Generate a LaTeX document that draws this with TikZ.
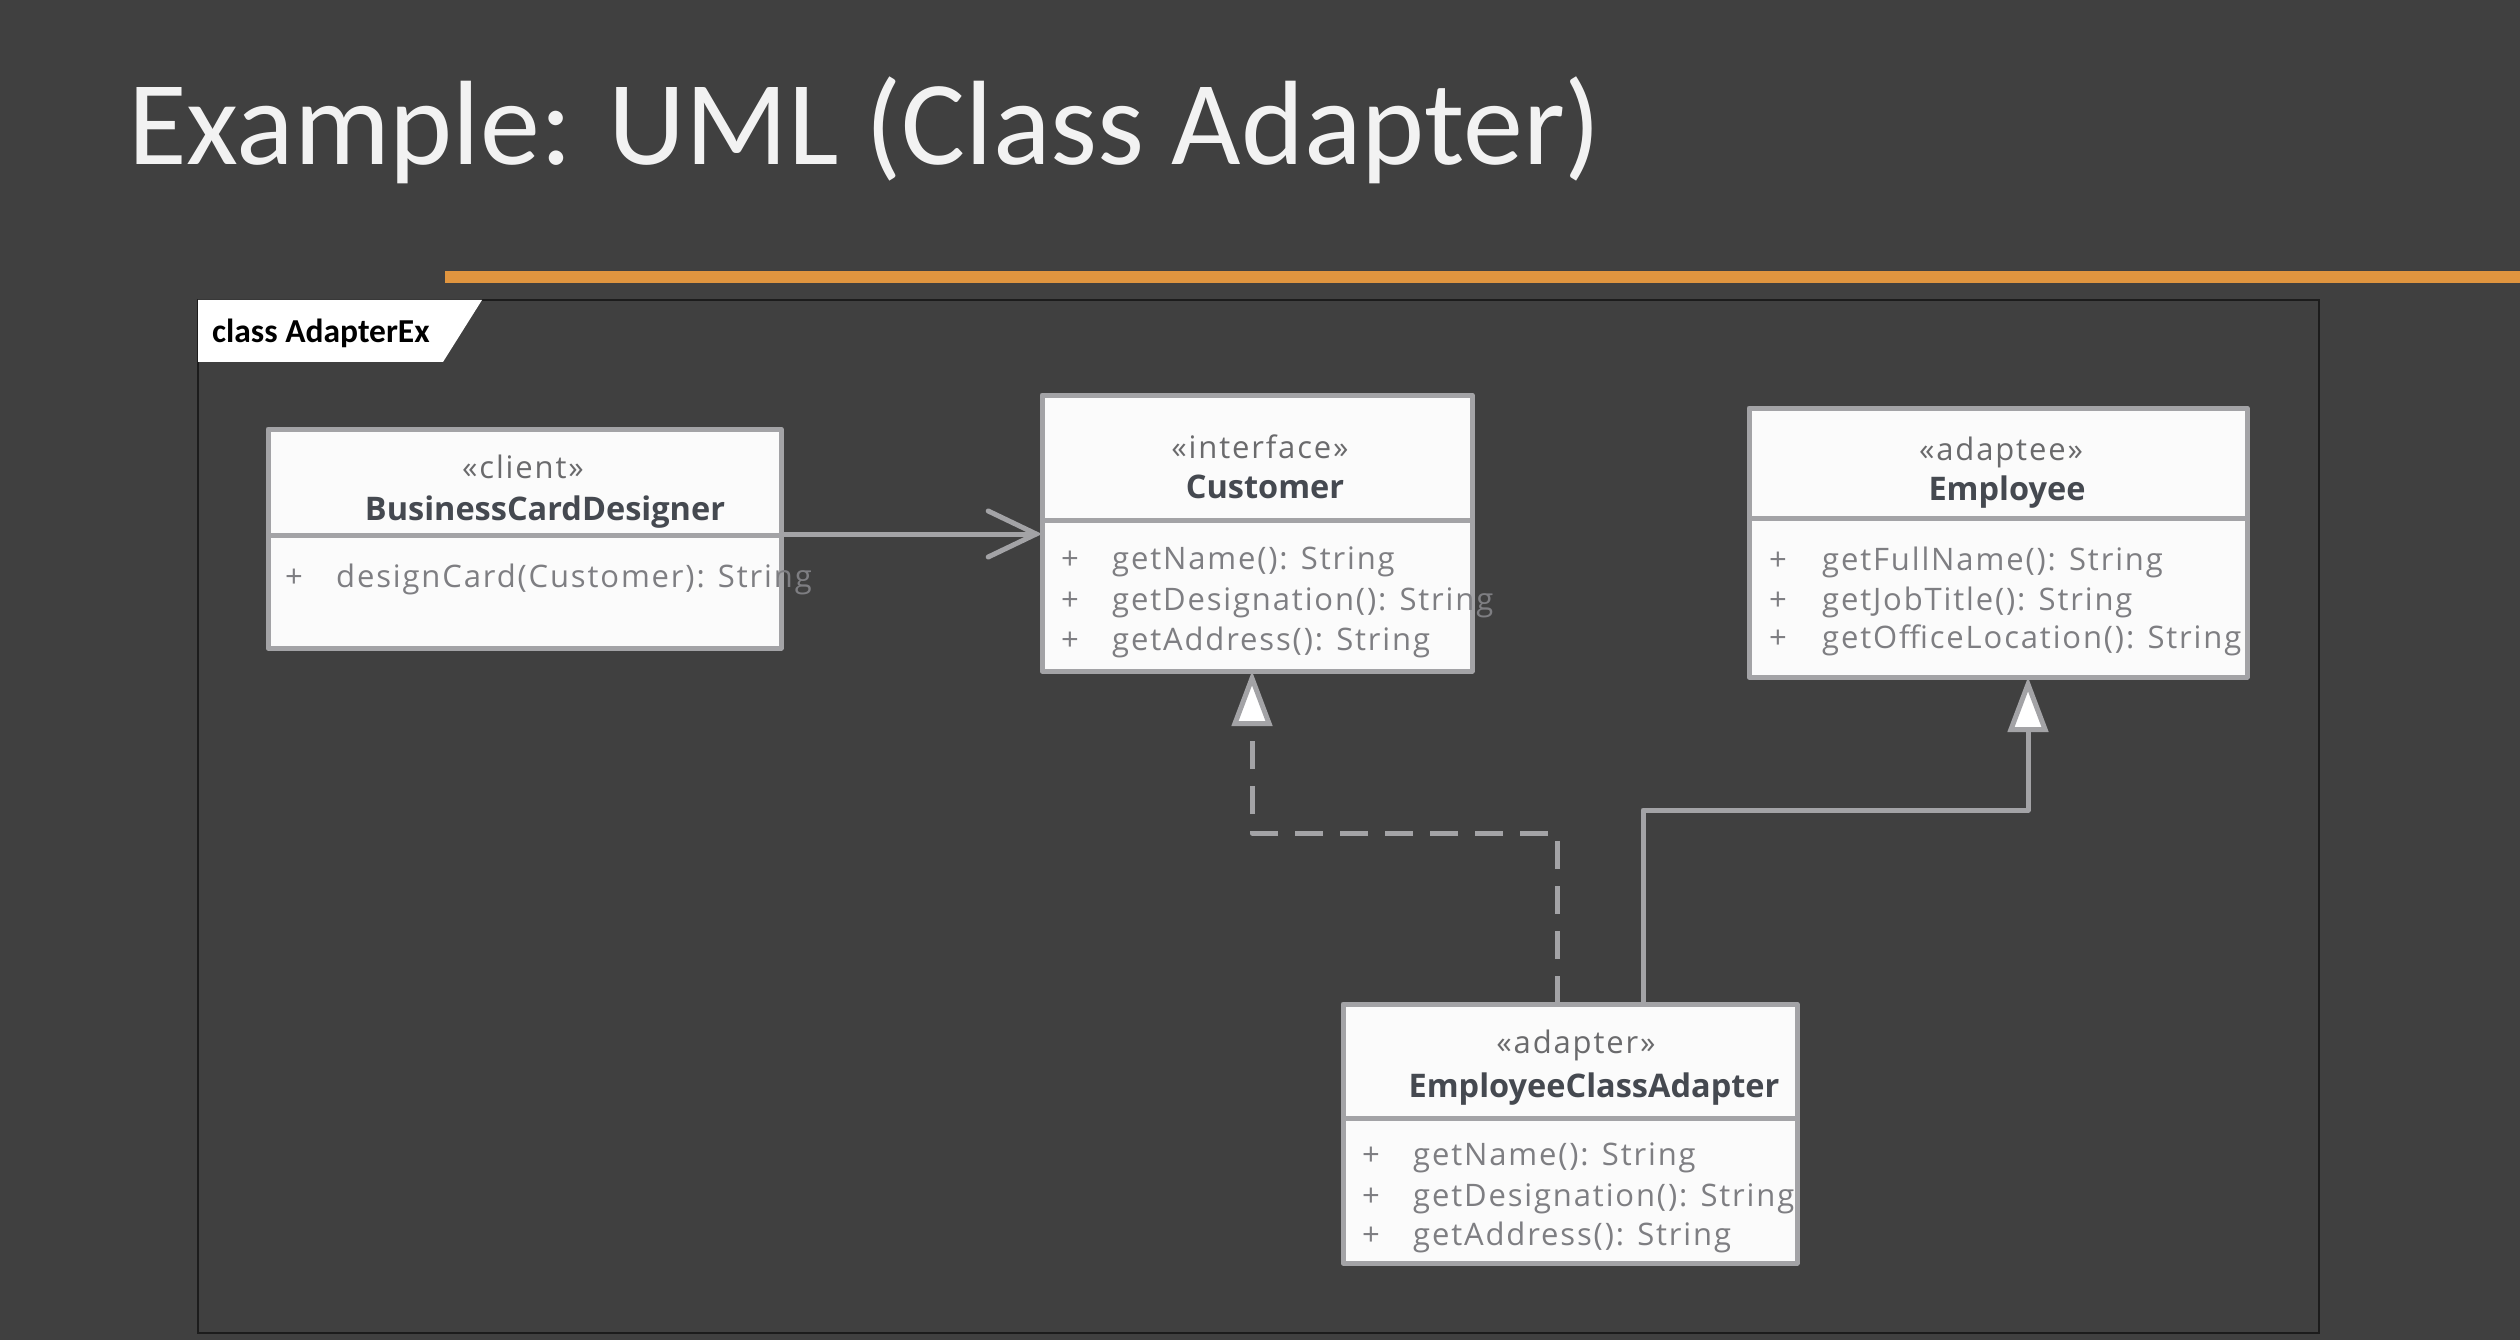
\documentclass[tikz,border=0pt]{standalone}
\usepackage{fontspec}
\setmainfont{Open Sans}
\newfontfamily\titlefont{Carlito}
\newfontfamily\boxfont{Open Sans}
\newfontfamily\spacedfont[LetterSpace=6]{Open Sans}
\usetikzlibrary{arrows.meta}
\definecolor{bgc}{HTML}{404040}
\definecolor{boxline}{HTML}{A3A3A6}
\definecolor{boxfill}{HTML}{FBFBFB}
\definecolor{nametext}{HTML}{454950}
\definecolor{stereotext}{HTML}{6A6A6C}
\definecolor{methtext}{HTML}{7E7E82}
\definecolor{barorange}{HTML}{E0953F}
\definecolor{framec}{HTML}{1C1C1C}
\definecolor{titlec}{HTML}{F2F2F2}
\tikzset{
  umlbox/.style={draw=boxline, fill=boxfill, line width=5pt, rectangle, inner sep=0pt, outer sep=0pt, line join=round},
  divider/.style={draw=boxline, line width=5pt},
  stereo/.style={anchor=base, inner sep=0pt, text=stereotext, font=\spacedfont\fontsize{31}{36}\selectfont},
  cname/.style={anchor=base, inner sep=0pt, text=nametext, font=\boxfont\bfseries\fontsize{32.5}{38}\selectfont},
  meth/.style={anchor=base west, inner sep=0pt, text=methtext, font=\spacedfont\fontsize{31}{36}\selectfont},
  plus/.style={anchor=base west, inner sep=0pt, text=methtext, font=\boxfont\fontsize{31}{36}\selectfont},
  conn/.style={draw=boxline, line width=5pt, line cap=round, line join=round},
  assoc/.style={conn, -{Straight Barb[length=48pt, width=46pt, line cap=round]}},
  realize/.style={conn, line cap=butt, dash pattern=on 28pt off 17pt, -{Triangle[length=55pt, width=40pt, fill=white, line join=miter]}},
  generalize/.style={conn, -{Triangle[length=55pt, width=40pt, fill=white, line join=miter]}}
}
\begin{document}
\begin{tikzpicture}[x=1pt, y=-1pt]
\fill[bgc] (0,0) rectangle (2520,1340);
\useasboundingbox (0,0) rectangle (2520,1340);

% title and bar
\node[anchor=base west, inner sep=0pt, text=titlec, font=\titlefont\fontsize{120}{134}\selectfont] (title) at (128,165) {Example: UML (Class Adapter)};
\fill[barorange] (445,271) rectangle (2520,283);

% frame and tab
\draw[framec, line width=2.5pt] (198,300) rectangle (2319,1333);
\fill[white] (198,300) -- (482,300) -- (443,362) -- (198,362) -- cycle;
\node[anchor=base west, inner sep=0pt, text=black, font=\titlefont\bfseries\fontsize{33.5}{38}\selectfont] (tab) at (212,343) {class AdapterEx};

% boxes
\node[umlbox, minimum width=513pt, minimum height=219pt] (bcd) at (524.5,538.5) {};
\node[umlbox, minimum width=430pt, minimum height=276pt] (cust) at (1257,533) {};
\node[umlbox, minimum width=498pt, minimum height=269pt] (emp) at (1998,542.5) {};
\node[umlbox, minimum width=454pt, minimum height=259pt] (adp) at (1570,1133.5) {};

\draw[divider] (bcd.west |- 0,535) -- (bcd.east |- 0,535);
\draw[divider] (cust.west |- 0,520) -- (cust.east |- 0,520);
\draw[divider] (emp.west |- 0,518) -- (emp.east |- 0,518);
\draw[divider] (adp.west |- 0,1118) -- (adp.east |- 0,1118);

% BusinessCardDesigner
\node[stereo] (bcdst) at (523,478) {«client»};
\node[cname] (bcdnm) at (545,520) {BusinessCardDesigner};
\node[plus] (bcdp1) at (285,587) {+};
\node[meth] (bcdm1) at (336,587) {designCard(Customer): String};

% Customer
\node[stereo] (custst) at (1260,458) {«interface»};
\node[cname] (custnm) at (1265,498) {Customer};
\node[plus] (custp1) at (1061,569) {+};
\node[plus] (custp2) at (1061,610) {+};
\node[plus] (custp3) at (1061,650) {+};
\node[meth] (custm1) at (1112,569) {getName(): String};
\node[meth] (custm2) at (1112,610) {getDesignation(): String};
\node[meth] (custm3) at (1112,650) {getAddress(): String};

% Employee
\node[stereo] (empst) at (2001,460) {«adaptee»};
\node[cname] (empnm) at (2007,500) {Employee};
\node[plus] (empp1) at (1769,570) {+};
\node[plus] (empp2) at (1769,610) {+};
\node[plus] (empp3) at (1769,648) {+};
\node[meth] (empm1) at (1822,570) {getFullName(): String};
\node[meth] (empm2) at (1822,610) {getJobTitle(): String};
\node[meth] (empm3) at (1822,648) {getOfficeLocation(): String};

% EmployeeClassAdapter
\node[stereo] (adpst) at (1576,1053) {«adapter»};
\node[cname] (adpnm) at (1594,1097) {EmployeeClassAdapter};
\node[plus] (adpp1) at (1362,1165) {+};
\node[plus] (adpp2) at (1362,1206) {+};
\node[plus] (adpp3) at (1362,1245) {+};
\node[meth] (adpm1) at (1413,1165) {getName(): String};
\node[meth] (adpm2) at (1413,1206) {getDesignation(): String};
\node[meth] (adpm3) at (1413,1245) {getAddress(): String};

% connectors
\draw[assoc] (bcd.east |- 0,534) -- (cust.west |- 0,534);

\coordinate (rb1) at (1557,833);
\coordinate (rb2) at (1252,833);
\draw[realize] (adp.north -| rb1) -- (rb1) -- (rb2) -- (cust.south -| rb2);

\coordinate (gb1) at (1643,810);
\coordinate (gb2) at (2028,810);
\draw[generalize] (adp.north -| gb1) -- (gb1) -- (gb2) -- (emp.south -| gb2);
\end{tikzpicture}
\end{document}
